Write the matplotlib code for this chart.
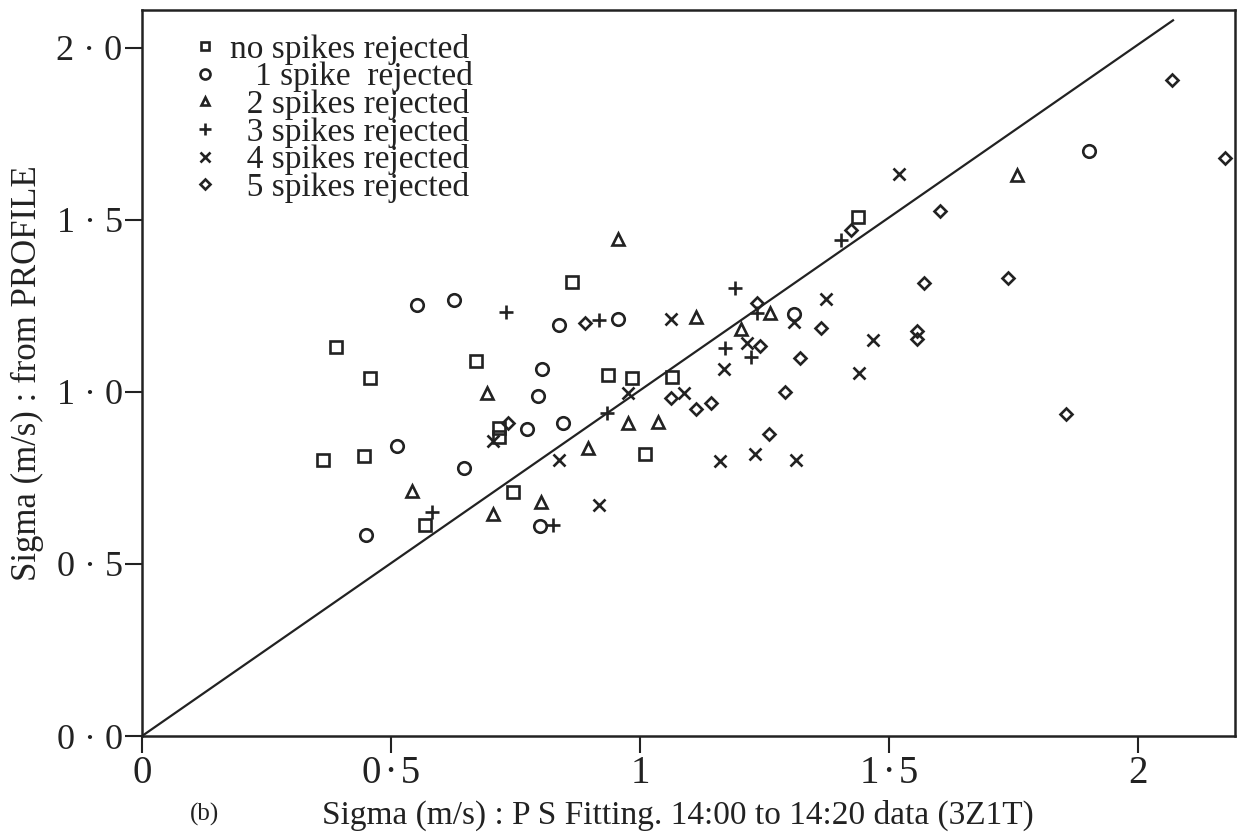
import matplotlib
matplotlib.use("Agg")
import matplotlib.pyplot as plt
from matplotlib.ticker import FixedLocator, FixedFormatter

# values
sq_x = [0.389, 0.457, 0.863, 0.670, 0.935, 0.983, 0.716, 0.716, 0.363, 0.445,
        0.744, 0.568, 1.009, 1.065, 1.437]
sq_y = [1.130, 1.040, 1.319, 1.089, 1.048, 1.040, 0.895, 0.870, 0.801, 0.815,
        0.708, 0.612, 0.821, 1.043, 1.508]

ci_x = [0.552, 0.626, 0.837, 0.955, 0.803, 0.795, 0.772, 0.845, 0.512, 0.646,
        0.449, 0.799, 1.310, 1.902]
ci_y = [1.252, 1.267, 1.194, 1.212, 1.066, 0.987, 0.891, 0.911, 0.842, 0.778,
        0.585, 0.609, 1.226, 1.701]

tr_x = [0.955, 0.692, 0.975, 0.895, 0.542, 0.704, 0.801, 1.112, 1.260, 1.202,
        1.035, 1.756]
tr_y = [1.444, 0.996, 0.909, 0.836, 0.711, 0.646, 0.681, 1.217, 1.229, 1.182,
        0.914, 1.631]

pl_x = [0.730, 0.917, 0.582, 0.933, 0.825, 1.190, 1.234, 1.170, 1.222, 1.404]
pl_y = [1.232, 1.209, 0.652, 0.938, 0.612, 1.302, 1.229, 1.127, 1.101, 1.441]

cr_x = [0.704, 0.837, 0.917, 0.975, 1.063, 1.374, 1.467, 1.439, 1.168, 1.214,
        1.310, 1.089, 1.160, 1.230, 1.314, 1.519]
cr_y = [0.856, 0.801, 0.670, 0.996, 1.211, 1.270, 1.150, 1.054, 1.066, 1.141,
        1.203, 0.996, 0.798, 0.821, 0.801, 1.634]

di_x = [0.734, 0.889, 1.234, 1.240, 1.364, 1.571, 1.555, 1.555, 1.322, 1.290,
        1.258, 1.063, 1.112, 1.142, 1.603, 1.738, 1.856, 2.175, 2.067, 1.423]
di_y = [0.911, 1.200, 1.258, 1.133, 1.185, 1.316, 1.176, 1.153, 1.098, 0.999,
        0.879, 0.981, 0.949, 0.967, 1.526, 1.331, 0.935, 1.680, 1.907, 1.471]

line_x = [0.0, 2.07]
line_y = [0.0, 2.08]

labels = ["no spikes rejected", "   1 spike  rejected", "  2 spikes rejected",
          "  3 spikes rejected", "  4 spikes rejected", "  5 spikes rejected"]

x_ticks = [0, 0.5, 1, 1.5, 2]
x_tick_labels = ["0", "0\u200a\u00b7\u200a5", "1", "1\u200a\u00b7\u200a5", "2"]
y_ticks = [0, 0.5, 1, 1.5, 2]
y_tick_labels = ["0 \u00b7 0", "0 \u00b7 5", "1 \u00b7 0", "1 \u00b7 5", "2 \u00b7 0"]

plt.rcParams["font.family"] = ["Liberation Serif", "DejaVu Serif"]

fig = plt.figure(figsize=(12.48, 8.34), dpi=100)
ax = fig.add_axes([0.1138, 0.1175, 0.876, 0.8705])

mk = dict(linestyle="none", color="#222222", markerfacecolor="none",
          markeredgewidth=1.9)
ax.plot(sq_x, sq_y, marker="s", markersize=8, label=labels[0], **mk)
ax.plot(ci_x, ci_y, marker="o", markersize=9, label=labels[1], **mk)
ax.plot(tr_x, tr_y, marker="^", markersize=8, label=labels[2], **mk)
ax.plot(pl_x, pl_y, marker="+", markersize=10, label=labels[3], **mk)
ax.plot(cr_x, cr_y, marker="x", markersize=9, label=labels[4], **mk)
ax.plot(di_x, di_y, marker="D", markersize=6.5, label=labels[5], **mk)

ax.plot(line_x, line_y, color="#222222", linewidth=1.6)

ax.set_xlim(0, 2.195)
ax.set_ylim(0, 2.11)

ax.xaxis.set_major_locator(FixedLocator(x_ticks))
ax.xaxis.set_major_formatter(FixedFormatter(x_tick_labels))
ax.yaxis.set_major_locator(FixedLocator(y_ticks))
ax.yaxis.set_major_formatter(FixedFormatter(y_tick_labels))
ax.tick_params(axis="x", direction="out", length=12, width=1.5,
               labelsize=28, pad=2, colors="#222222")
ax.tick_params(axis="y", direction="out", length=12, width=1.5,
               labelsize=26, pad=2, colors="#222222")
for s in ax.spines.values():
    s.set_linewidth(1.8)
    s.set_color("#222222")

ax.set_xlabel("Sigma (m/s) : P S Fitting. 14:00 to 14:20 data (3Z1T)",
              fontsize=24, color="#222222")
ax.xaxis.set_label_coords(0.49, -0.088)
ax.set_ylabel("Sigma (m/s) : from PROFILE", fontsize=25, color="#222222")
ax.yaxis.set_label_coords(-0.09, 0.5)
fig.text(0.152, 0.023, "(b)", fontsize=18, color="#222222", va="center")

leg = ax.legend(loc="upper left", bbox_to_anchor=(0.03, 0.995), frameon=False,
                fontsize=24, labelspacing=-0.1, handlelength=0.6,
                handletextpad=0.45, borderaxespad=0.2, markerscale=0.8)
for t in leg.get_texts():
    t.set_color("#222222")

fig.savefig("out.png", dpi=100)
